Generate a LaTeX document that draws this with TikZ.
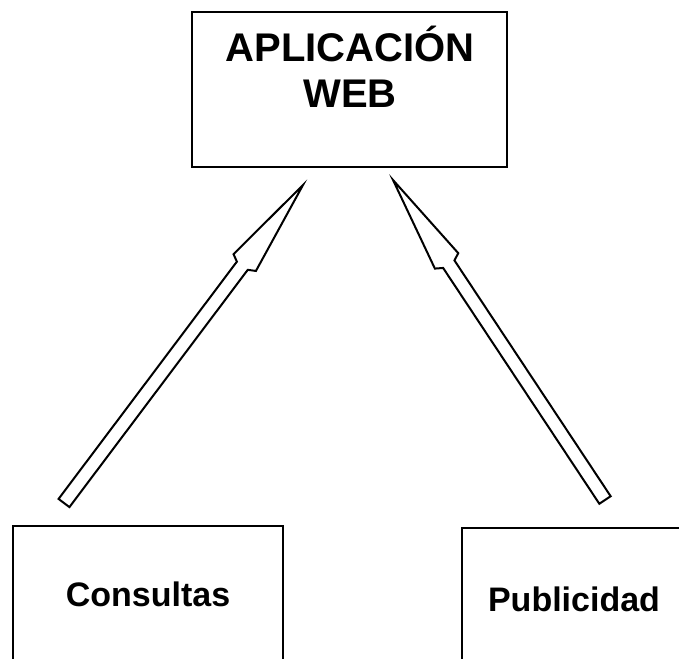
\documentclass[tikz,border=0pt]{standalone}
\usepackage{fontspec}
\setmainfont{Liberation Sans}
\usetikzlibrary{calc}
\tikzset{
  box/.style={draw, line width=1.9pt, rectangle, inner sep=0pt},
  bigtxt/.style={font=\bfseries\fontsize{40}{46}\selectfont, inner sep=0pt, anchor=base},
  lbl/.style={font=\bfseries\fontsize{34}{40}\selectfont, inner sep=0pt, anchor=base},
  blk/.style={draw, line width=2pt, line join=miter, fill=white},
}
\newcommand\blockarrow[2]{%
  \path ($(#2)!97pt!(#1)$) coordinate (hb) ($(#2)!101pt!(#1)$) coordinate (sb);
  \draw[blk] ($(#1)!6.8pt!90:(#2)$) -- ($(sb)!6.8pt!-90:(#1)$) -- ($(hb)!14pt!-90:(#1)$)
    -- (#2) -- ($(hb)!14pt!90:(#1)$) -- ($(sb)!6.8pt!90:(#1)$) -- ($(#1)!6.8pt!-90:(#2)$) -- cycle;
}
\begin{document}
\begin{tikzpicture}[x=1pt,y=-1pt]
\clip (0,0) rectangle (679,658);
\fill[white] (0,0) rectangle (679,658);
% top box
\node[box, minimum width=315pt, minimum height=155pt] (web) at (349.5,89.5) {};
\node[bigtxt] (webt1) at (350,62) {APLICACIÓN};
\node[bigtxt] (webt2) at (350,107) {WEB};
% bottom boxes
\node[box, minimum width=270pt, minimum height=174pt] (cons) at (148,613) {};
\node[lbl] (const) at (148,606) {Consultas};
\node[box, minimum width=278pt, minimum height=174pt] (pub) at (601,615) {};
\node[lbl] (pubt) at (574,611) {Publicidad};
% arrows
\coordinate (t1) at (64,503);
\coordinate (h1) at (303,185);
\coordinate (t2) at (605,500);
\coordinate (h2) at (393,180);
\blockarrow{t1}{h1}
\blockarrow{t2}{h2}
\end{tikzpicture}
\end{document}
